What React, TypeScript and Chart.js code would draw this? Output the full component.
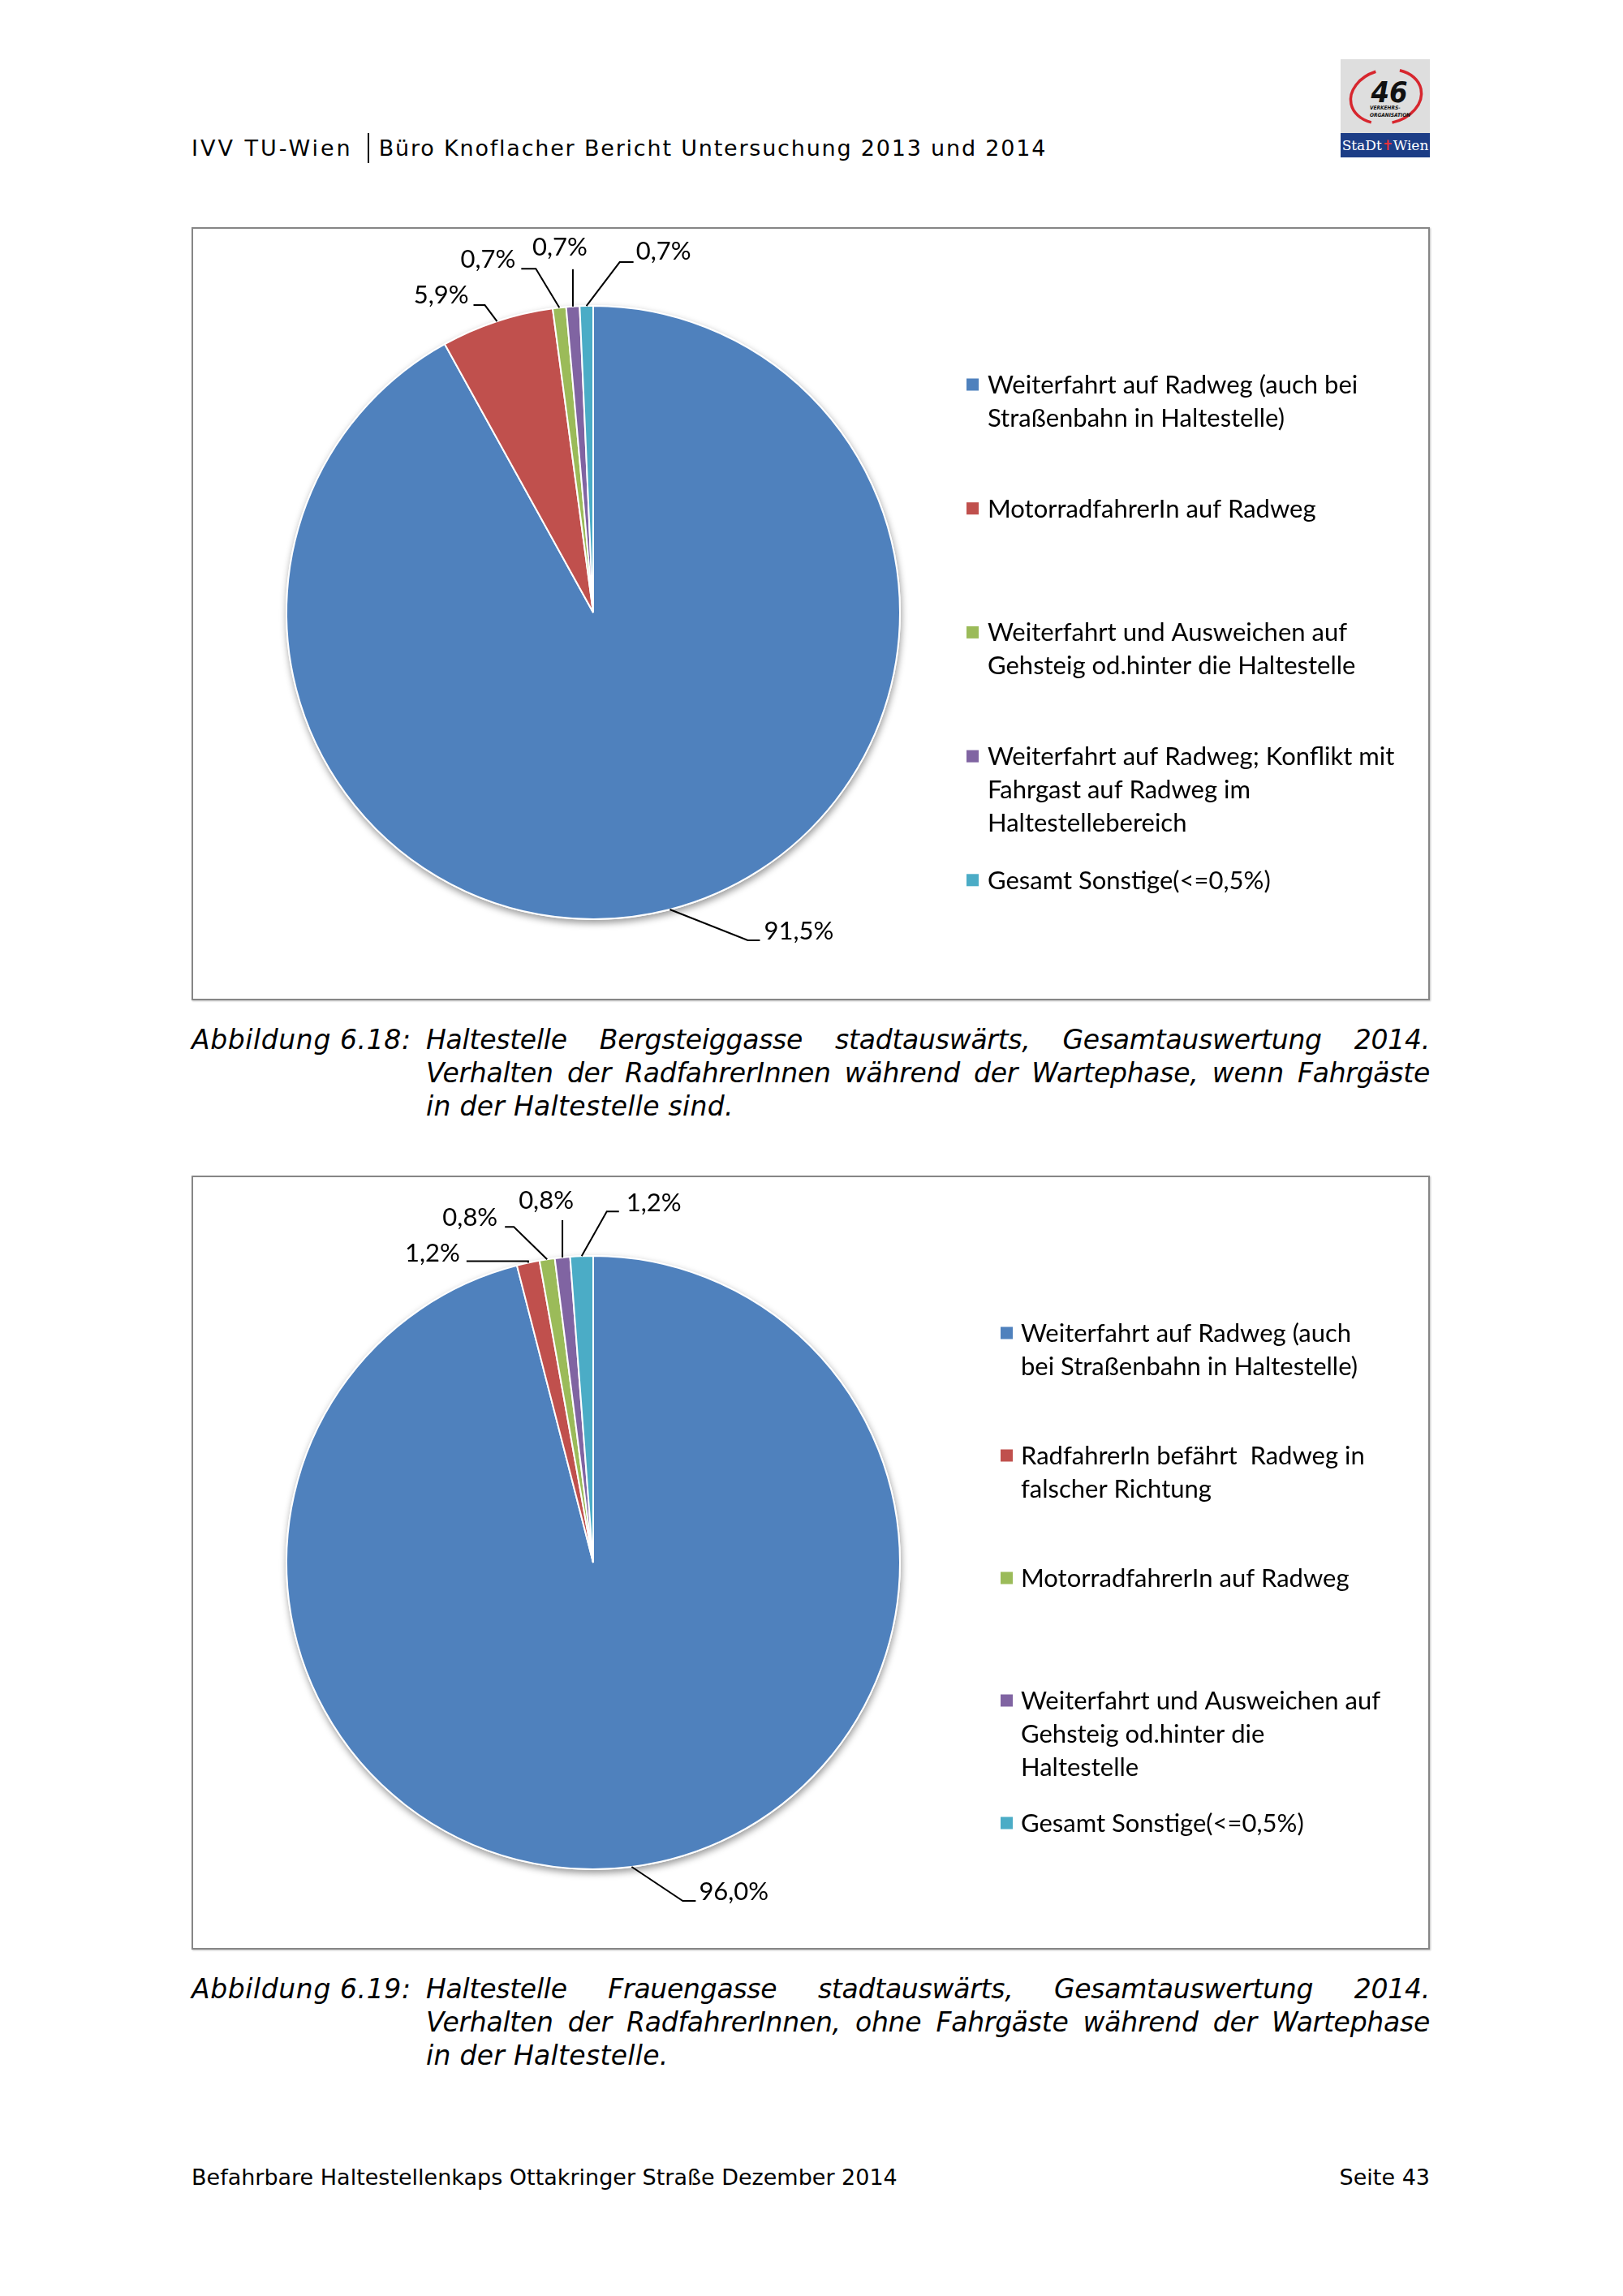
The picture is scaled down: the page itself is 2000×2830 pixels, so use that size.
import React, { useEffect, useRef } from "react";
import { Chart, registerables } from "chart.js";

Chart.register(...registerables);

// ---------- data ----------
const COLORS = ["#4F81BD", "#C0504D", "#9BBB59", "#8064A2", "#4BACC6"];

const categories1: string[][] = [
  ["Weiterfahrt auf Radweg (auch bei", "Straßenbahn in Haltestelle)"],
  ["MotorradfahrerIn auf Radweg"],
  ["Weiterfahrt und Ausweichen auf", "Gehsteig od.hinter die Haltestelle"],
  ["Weiterfahrt auf Radweg; Konflikt mit", "Fahrgast auf Radweg im", "Haltestellebereich"],
  ["Gesamt Sonstige(<=0,5%)"],
];
const values1 = [91.5, 5.9, 0.7, 0.7, 0.7];

const categories2: string[][] = [
  ["Weiterfahrt auf Radweg (auch", "bei Straßenbahn in Haltestelle)"],
  ["RadfahrerIn befährt  Radweg in", "falscher Richtung"],
  ["MotorradfahrerIn auf Radweg"],
  ["Weiterfahrt und Ausweichen auf", "Gehsteig od.hinter die", "Haltestelle"],
  ["Gesamt Sonstige(<=0,5%)"],
];
const values2 = [96.0, 1.2, 0.8, 0.8, 1.2];

const caption1Label = "Abbildung 6.18:";
const caption1Lines = [
  "Haltestelle Bergsteiggasse stadtauswärts, Gesamtauswertung 2014.",
  "Verhalten der RadfahrerInnen während der Wartephase, wenn Fahrgäste",
  "in der Haltestelle sind.",
];
const caption2Label = "Abbildung 6.19:";
const caption2Lines = [
  "Haltestelle Frauengasse stadtauswärts, Gesamtauswertung 2014.",
  "Verhalten der RadfahrerInnen, ohne Fahrgäste während der Wartephase",
  "in der Haltestelle.",
];

const headerLeft = "IVV TU-Wien";
const headerRight = "Büro Knoflacher Bericht Untersuchung 2013 und 2014";
const footerLeft = "Befahrbare Haltestellenkaps Ottakringer Straße Dezember 2014";
const footerRight = "Seite 43";

// ---------- styling / label layout ----------
const LABEL_FONT = '31px Lato, "Open Sans", sans-serif';
const LEGEND_FONT = '31px Lato, "Open Sans", sans-serif';
const PAGE_FONT = '"DejaVu Sans", Verdana, sans-serif';

type Leader = { dx: number; dy: number; h: number; tx: number; ty: number; align: CanvasTextAlign };

const leaders1: Leader[] = [
  { dx: 96, dy: 38, h: 15, tx: 5, ty: -1, align: "left" },
  { dx: -15, dy: -20, h: -14, tx: -6, ty: -2, align: "right" },
  { dx: -29, dy: -48, h: -18, tx: -7, ty: -1, align: "right" },
  { dx: 0, dy: -46, h: 0, tx: -16, ty: -17, align: "center" },
  { dx: 41, dy: -54, h: 17, tx: 3, ty: -3, align: "left" },
];
const leaders2: Leader[] = [
  { dx: 63, dy: 42, h: 16, tx: 4, ty: -1, align: "left" },
  { dx: 0, dy: -2, h: -76, tx: -8, ty: 0, align: "right" },
  { dx: -41, dy: -40, h: -11, tx: -9, ty: -1, align: "right" },
  { dx: 0, dy: -46, h: 0, tx: -20, ty: -14, align: "center" },
  { dx: 31, dy: -55, h: 15, tx: 9, ty: 0, align: "left" },
];

type LegendLayout = { x: number; textX: number; y0: number; step: number; lineH: number; size: number };
const legend1: LegendLayout = { x: 955, textX: 981, y0: 194, step: 152.7, lineH: 41, size: 15 };
const legend2: LegendLayout = { x: 997, textX: 1022, y0: 194, step: 151, lineH: 41, size: 15 };

const fmt = (v: number) => v.toFixed(1).replace(".", ",") + "%";

function makePlugins(leaders: Leader[], categories: string[][], lg: LegendLayout) {
  const shadow = {
    id: "pieShadow",
    beforeDatasetsDraw(chart: any) {
      const meta = chart.getDatasetMeta(0);
      const a = meta.data[0];
      if (!a) return;
      const p = a.getProps(["x", "y", "outerRadius"], true);
      const ctx = chart.ctx;
      ctx.save();
      ctx.shadowColor = "rgba(0,0,0,0.4)";
      ctx.shadowBlur = 8;
      ctx.shadowOffsetX = 1;
      ctx.shadowOffsetY = 4;
      ctx.fillStyle = "#ffffff";
      ctx.beginPath();
      ctx.arc(p.x, p.y, p.outerRadius + 1, 0, Math.PI * 2);
      ctx.fill();
      ctx.restore();
    },
  };
  const labels = {
    id: "leaderLabels",
    afterDatasetsDraw(chart: any) {
      const ctx = chart.ctx;
      const meta = chart.getDatasetMeta(0);
      const vals = chart.data.datasets[0].data as number[];
      ctx.save();
      ctx.strokeStyle = "#000";
      ctx.fillStyle = "#000";
      ctx.lineWidth = 2;
      ctx.font = LABEL_FONT;
      ctx.textBaseline = "alphabetic";
      meta.data.forEach((arc: any, i: number) => {
        const p = arc.getProps(["x", "y", "startAngle", "endAngle", "outerRadius"], true);
        const mid = (p.startAngle + p.endAngle) / 2;
        const ax = p.x + Math.cos(mid) * p.outerRadius;
        const ay = p.y + Math.sin(mid) * p.outerRadius;
        const L = leaders[i];
        const ex = ax + L.dx;
        const ey = ay + L.dy;
        const hx = ex + L.h;
        ctx.beginPath();
        ctx.moveTo(ax, ay);
        ctx.lineTo(ex, ey);
        if (L.h !== 0) ctx.lineTo(hx, ey);
        ctx.stroke();
        ctx.textAlign = L.align;
        ctx.fillText(fmt(vals[i]), hx + L.tx, ey + L.ty);
      });
      ctx.restore();
    },
  };
  const legend = {
    id: "sideLegend",
    afterDraw(chart: any) {
      const ctx = chart.ctx;
      ctx.save();
      ctx.font = LEGEND_FONT;
      ctx.textBaseline = "middle";
      ctx.textAlign = "left";
      categories.forEach((lines, i) => {
        const cy = lg.y0 + i * lg.step;
        ctx.fillStyle = COLORS[i];
        ctx.fillRect(lg.x, cy - lg.size / 2, lg.size, lg.size);
        ctx.fillStyle = "#000";
        lines.forEach((t, j) => ctx.fillText(t, lg.textX, cy + 1 + j * lg.lineH));
      });
      ctx.restore();
    },
  };
  return [shadow, labels, legend];
}

type PieProps = {
  left: number;
  top: number;
  width: number;
  height: number;
  values: number[];
  categories: string[][];
  leaders: Leader[];
  legend: LegendLayout;
  padding: { left: number; top: number; right: number; bottom: number };
};

function PieBox(props: PieProps) {
  const ref = useRef<HTMLCanvasElement | null>(null);
  useEffect(() => {
    if (!ref.current) return;
    let alive = true;
    const chart = new Chart(ref.current, {
      type: "pie",
      data: {
        labels: props.categories.map((c) => c.join(" ")),
        datasets: [
          {
            data: props.values,
            backgroundColor: COLORS,
            borderColor: "#ffffff",
            borderWidth: 2,
            hoverOffset: 0,
          },
        ],
      },
      options: {
        responsive: false,
        animation: false,
        events: [],
        devicePixelRatio: 1,
        layout: { padding: props.padding },
        plugins: { legend: { display: false }, tooltip: { enabled: false } },
      },
      plugins: makePlugins(props.leaders, props.categories, props.legend) as any,
    });
    if ((document as any).fonts && (document as any).fonts.ready) {
      (document as any).fonts.ready.then(() => {
        if (alive) chart.update();
      });
    }
    return () => {
      alive = false;
      chart.destroy();
    };
  }, []);
  return (
    <>
      <canvas
        ref={ref}
        width={props.width}
        height={props.height}
        style={{ position: "absolute", left: props.left, top: props.top, width: props.width, height: props.height }}
      />
      <div
        style={{
          position: "absolute",
          left: props.left,
          top: props.top,
          width: props.width,
          height: props.height,
          boxSizing: "border-box",
          border: "2px solid #868686",
          boxShadow: "1px 1px 2px rgba(0,0,0,0.25)",
          pointerEvents: "none",
        }}
      />
    </>
  );
}

function Caption({ top, label, lines }: { top: number; label: string; lines: string[] }) {
  return (
    <div
      style={{
        position: "absolute",
        left: 236,
        top,
        width: 1526,
        fontFamily: PAGE_FONT,
        fontStyle: "italic",
        fontSize: 33,
        lineHeight: "41px",
        color: "#000",
      }}
    >
      <div style={{ position: "absolute", left: 0, top: 0, whiteSpace: "nowrap", letterSpacing: "0.6px" }}>{label}</div>
      <div style={{ position: "absolute", left: 289, top: 0, width: 1237 }}>
        {lines.map((l, i) => {
          const last = i === lines.length - 1;
          return (
            <div
              key={i}
              style={{
                textAlign: last ? "left" : "justify",
                textAlignLast: last ? "left" : "justify",
                letterSpacing: last ? "0.3px" : "-0.25px",
              }}
            >
              {l}
            </div>
          );
        })}
      </div>
    </div>
  );
}

function Logo() {
  return (
    <svg width={110} height={121} style={{ position: "absolute", left: 1652, top: 73 }}>
      <rect x={0} y={0} width={110} height={91} fill="#dedede" />
      <ellipse cx={56} cy={46} rx={44} ry={33} fill="none" stroke="#d7262e" strokeWidth={3.5} strokeDasharray="60 26 90 30" transform="rotate(-12 56 46)" />
      <text x={60} y={53} textAnchor="middle" fontFamily='"DejaVu Sans Condensed", "DejaVu Sans", sans-serif' fontWeight="bold" fontStyle="italic" fontSize={36} fill="#111">46</text>
      <text x={36} y={62} fontFamily='"DejaVu Sans Condensed", sans-serif' fontWeight="bold" fontStyle="italic" fontSize={6.5} fill="#111">VERKEHRS-</text>
      <text x={36} y={71} fontFamily='"DejaVu Sans Condensed", sans-serif' fontWeight="bold" fontStyle="italic" fontSize={6.5} fill="#111">ORGANISATION</text>
      <rect x={0} y={91} width={110} height={30} fill="#1c3d86" />
      <text x={55} y={112} textAnchor="middle" fontFamily='"DejaVu Serif", serif' fontSize={17} fill="#ffffff">
        StaDt<tspan fill="#e8323c">✝</tspan>Wien
      </text>
    </svg>
  );
}

export default function App() {
  return (
    <div style={{ position: "absolute", left: 0, top: 0, width: 2000, height: 2830, background: "#ffffff", overflow: "hidden" }}>
      <div
        style={{
          position: "absolute",
          left: 236,
          top: 164,
          fontFamily: PAGE_FONT,
          fontSize: 27,
          lineHeight: "34px",
          whiteSpace: "nowrap",
          color: "#000",
        }}
      >
        <span style={{ letterSpacing: "3px" }}>{headerLeft}</span>
        <span
          style={{
            display: "inline-block",
            width: 2,
            height: 37,
            background: "#000",
            verticalAlign: "-9px",
            margin: "0 12px 0 18px",
          }}
        />
        <span style={{ letterSpacing: "1.8px" }}>{headerRight}</span>
      </div>
      <Logo />

      <PieBox
        left={236}
        top={280}
        width={1526}
        height={953}
        values={values1}
        categories={categories1}
        leaders={leaders1}
        legend={legend1}
        padding={{ left: 116, top: 96, right: 652, bottom: 99 }}
      />
      <Caption top={1261} label={caption1Label} lines={caption1Lines} />

      <PieBox
        left={236}
        top={1449}
        width={1526}
        height={954}
        values={values2}
        categories={categories2}
        leaders={leaders2}
        legend={legend2}
        padding={{ left: 116, top: 98, right: 652, bottom: 98 }}
      />
      <Caption top={2431} label={caption2Label} lines={caption2Lines} />

      <div
        style={{
          position: "absolute",
          left: 236,
          top: 2667,
          width: 1526,
          fontFamily: PAGE_FONT,
          fontSize: 27,
          lineHeight: "34px",
          color: "#000",
          display: "flex",
          justifyContent: "space-between",
          whiteSpace: "nowrap",
        }}
      >
        <span>{footerLeft}</span>
        <span>{footerRight}</span>
      </div>
    </div>
  );
}
